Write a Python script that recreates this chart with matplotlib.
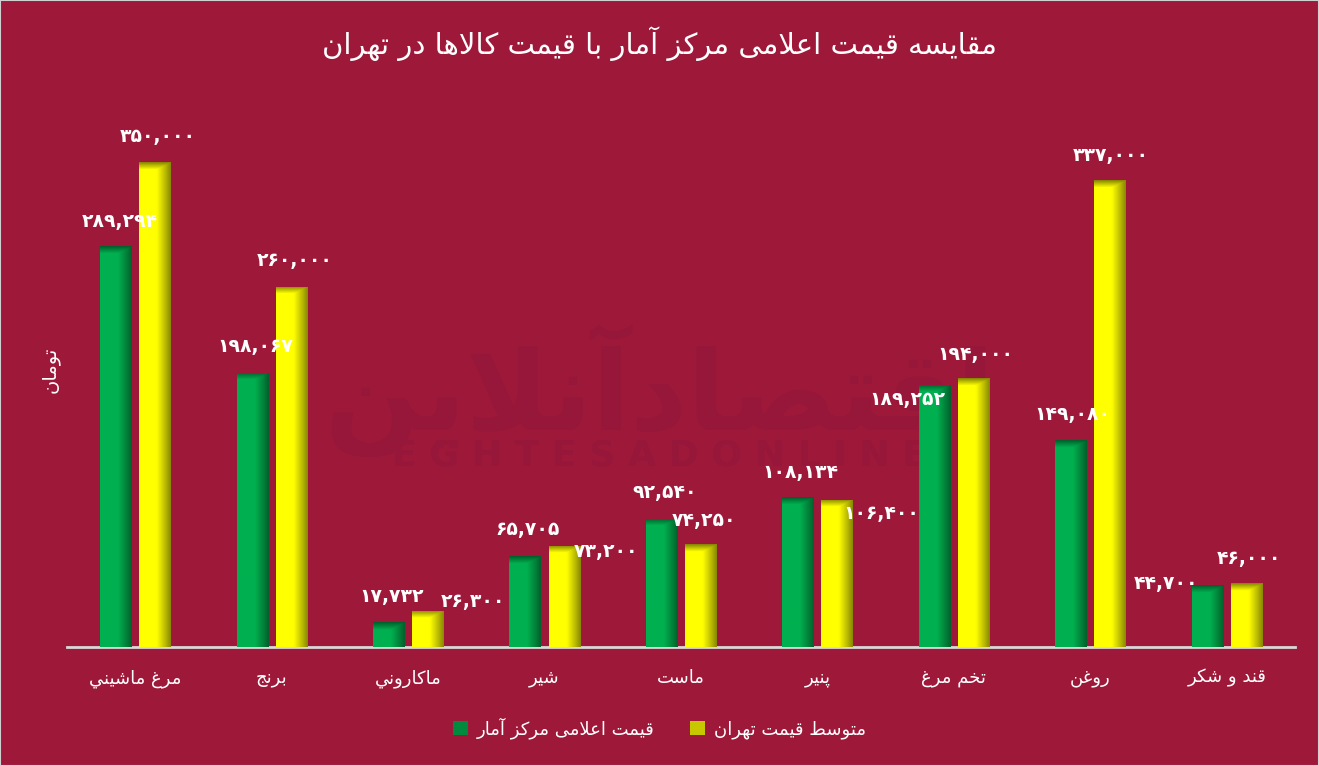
# مقایسه قیمت اعلامی مرکز آمار با قیمت کالاها در تهران
import numpy as np
import matplotlib.pyplot as plt
from matplotlib.patches import Patch, Rectangle
from matplotlib.colors import to_rgb

categories = ['مرغ ماشيني', 'برنج', 'ماکاروني', 'شیر', 'ماست', 'پنیر', 'تخم مرغ', 'روغن', 'قند و شکر']
amar = [289294, 198067, 17732, 65705, 92540, 108134, 189252, 149080, 44700]     # قیمت اعلامی مرکز آمار
tehran = [350000, 260000, 26300, 73200, 74250, 106400, 194000, 337000, 46000]   # متوسط قیمت تهران
series_names = ['قیمت اعلامی مرکز آمار', 'متوسط قیمت تهران']
title = 'مقایسه قیمت اعلامی مرکز آمار با قیمت کالاها در تهران'
ylabel = 'تومان'

# label placement (pixels from top centre of each bar), hand tuned like the original
amar_off = [(4, -25), (3, -26), (3, -26), (3, -26), (3, -26), (2, -25), (-27, 15), (2, -26), (-41, -2)]
tehran_off = [(3, -26), (3, -26), (45, -9), (42, 6), (3, -24), (44, 14), (2, -24), (1, -25), (3, -25)]

BG = '#9E1839'

# --- tiny arabic/persian shaper (no arabic_reshaper here) ---
dual = {'ب': 0xFE8F, 'ت': 0xFE95, 'ث': 0xFE99, 'ج': 0xFE9D, 'ح': 0xFEA1, 'خ': 0xFEA5,
        'س': 0xFEB1, 'ش': 0xFEB5, 'ص': 0xFEB9, 'ض': 0xFEBD, 'ط': 0xFEC1, 'ظ': 0xFEC5,
        'ع': 0xFEC9, 'غ': 0xFECD, 'ف': 0xFED1, 'ق': 0xFED5, 'ك': 0xFED9, 'ل': 0xFEDD,
        'م': 0xFEE1, 'ن': 0xFEE5, 'ه': 0xFEE9, 'ي': 0xFEF1, 'پ': 0xFB56, 'چ': 0xFB7A,
        'ک': 0xFB8E, 'گ': 0xFB92, 'ی': 0xFBFC}
right = {'ا': 0xFE8D, 'آ': 0xFE81, 'أ': 0xFE83, 'د': 0xFEA9, 'ذ': 0xFEAB, 'ر': 0xFEAD,
         'ز': 0xFEAF, 'و': 0xFEED, 'ژ': 0xFB8A, 'ة': 0xFE93}


def fa(s):
    out = []
    i, n = 0, len(s)
    while i < n:
        c = s[i]
        jp = i > 0 and s[i - 1] in dual
        if c == 'ل' and i + 1 < n and s[i + 1] in 'اآ':
            base = 0xFEFB if s[i + 1] == 'ا' else 0xFEF5
            out.append(chr(base + jp))
            i += 2
            continue
        jn = i + 1 < n and (s[i + 1] in dual or s[i + 1] in right)
        if c in dual:
            out.append(chr(dual[c] + {(0, 0): 0, (1, 0): 1, (0, 1): 2, (1, 1): 3}[(int(jp), int(jn))]))
        elif c in right:
            out.append(chr(right[c] + int(jp)))
        else:
            out.append(c)
        i += 1
    return ''.join(out[::-1])


pdigits = str.maketrans('0123456789', '۰۱۲۳۴۵۶۷۸۹')


def num(v):
    return f'{v:,}'.translate(pdigits)


plt.rcParams['font.family'] = ['DejaVu Sans']

fig = plt.figure(figsize=(13.19, 7.66), dpi=100, facecolor=BG)
ax = fig.add_axes([0.0508, 0.1554, 0.931, 0.7232], facecolor=BG)
ax.set_xlim(-0.5, len(categories) - 0.5)
ax.set_ylim(0, 400000)

# watermark (behind the bars)
ax.text(0.5, 0.49, fa('اقتصادآنلاین'), transform=fig.transFigure, ha='center', va='center',
        fontsize=80, fontweight='bold', color='#961739', zorder=0.5, clip_on=False)
ax.text(0.5, 0.405, 'E G H T E S A D O N L I N E', transform=fig.transFigure, ha='center',
        va='center', fontsize=26, fontweight='bold', color='#961739', zorder=0.5, clip_on=False)

x = np.arange(len(categories))
w = 0.228
b1 = ax.bar(x - 0.143, amar, w, color='#00B050', zorder=2)
b2 = ax.bar(x + 0.143, tehran, w, color='#FFFF00', zorder=2)


def shade(bars, base, dark):
    base = np.array(to_rgb(base))
    dark = np.array(to_rgb(dark))
    for r in bars:
        x0, y0, bw, bh = r.get_x(), r.get_y(), r.get_width(), r.get_height()
        p0 = ax.transData.transform((x0, y0))
        p1 = ax.transData.transform((x0 + bw, y0 + bh))
        ny = max(int(p1[1] - p0[1]), 2)
        nx = 40
        t = np.linspace(0, 1, nx)
        f = np.clip((t - 0.55) / 0.45, 0, 1) ** 1.1
        d = np.arange(ny)
        g = np.clip(1 - d / 7.0, 0, 1)
        m = np.maximum(f[None, :], g[:, None])
        img = base[None, None, :] + (dark - base)[None, None, :] * m[:, :, None]
        im = ax.imshow(img, extent=(x0, x0 + bw, y0, y0 + bh), aspect='auto',
                       interpolation='bilinear', zorder=3)
        im.set_clip_path(r)


shade(b1, '#00B050', '#00622B')
shade(b2, '#FFFF00', '#8A8A00')

for bars, vals, offs in ((b1, amar, amar_off), (b2, tehran, tehran_off)):
    for r, v, (dx, dy) in zip(bars, vals, offs):
        ax.annotate(num(v), (r.get_x() + r.get_width() / 2, r.get_height()),
                    xytext=(dx, -dy), textcoords='offset pixels', ha='center', va='center',
                    fontsize=13.5, fontweight='bold', color='white', zorder=5)

ax.set_xticks(x)
ax.set_xticklabels([fa(c) for c in categories], fontsize=13, color='white')
ax.tick_params(axis='x', length=0, pad=16)
ax.set_yticks([])
for s in ['top', 'right', 'left']:
    ax.spines[s].set_visible(False)
ax.spines['bottom'].set_color('#D9D9D9')
ax.spines['bottom'].set_linewidth(2)

fig.text(0.5, 0.9426, fa(title), ha='center', va='center', fontsize=21, color='white')
fig.text(0.038, 1 - 370 / 766, fa(ylabel), ha='center', va='center', rotation=90,
         fontsize=14, color='white')

handles = [Patch(facecolor='#008A3E', edgecolor='none'), Patch(facecolor='#C8C800', edgecolor='none')]
leg = fig.legend(handles, [fa(s) for s in series_names], loc='center', bbox_to_anchor=(0.5, 0.05),
                 ncol=2, frameon=False, fontsize=13, handlelength=0.8, handleheight=0.8,
                 columnspacing=2.0, handletextpad=0.5)
for t in leg.get_texts():
    t.set_color('white')

fig.patches.append(Rectangle((0, 0), 1, 1, transform=fig.transFigure, fill=False,
                             edgecolor='#D0D0D0', linewidth=1.5))

fig.savefig('out.png', dpi=100, facecolor=BG)
